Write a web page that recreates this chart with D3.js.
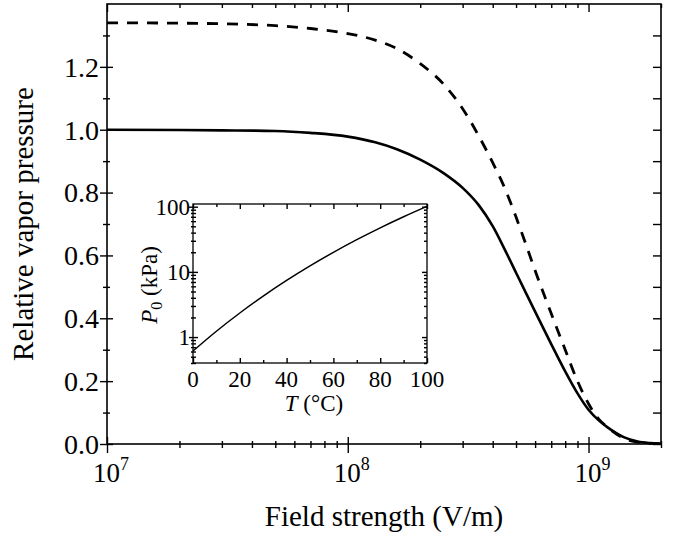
<!DOCTYPE html>
<html>
<head>
<meta charset="utf-8">
<script src="https://cdn.jsdelivr.net/npm/d3@7"></script>
<style>
  body { margin: 0; background: #fff; }
  svg text { font-family: "Liberation Serif", "Times New Roman", serif; fill: #000; }
  .tk line { stroke: #000; stroke-width: 1.4; }
  .tk .domain { display: none; }
</style>
</head>
<body>
<svg width="677" height="541"></svg>
<script>
// main plot data
var fieldStrength = [1e7, 2e7, 3e7, 5e7, 7e7, 1e8, 1.3e8, 1.6e8, 2e8, 2.5e8, 3e8, 3.5e8, 4e8, 4.5e8, 5e8,
                     5.5e8, 6e8, 7e8, 8e8, 9e8, 1e9, 1.1e9, 1.2e9, 1.4e9, 1.6e9, 1.8e9, 2e9];
var vaporSolid  = [1.000, 0.999, 0.998, 0.996, 0.990, 0.978, 0.960, 0.938, 0.905, 0.862, 0.815, 0.760, 0.693, 0.617, 0.545,
                   0.480, 0.421, 0.318, 0.231, 0.161, 0.109, 0.076, 0.053, 0.022, 0.008, 0.003, 0.001];
var vaporDashed = [1.340, 1.339, 1.337, 1.331, 1.322, 1.306, 1.285, 1.258, 1.210, 1.145, 1.067, 0.980, 0.895, 0.812, 0.722,
                   0.634, 0.552, 0.415, 0.300, 0.200, 0.128, 0.080, 0.053, 0.018, 0.006, 0.002, 0.001];

var yTicks = [0, 0.2, 0.4, 0.6, 0.8, 1.0, 1.2];
var yMinor = [0.1, 0.3, 0.5, 0.7, 0.9, 1.1, 1.3];
var xMajor = [1e7, 1e8, 1e9];
var xLabels = ["7", "8", "9"];

// inset: saturation pressure of water
var insetTemp = [0, 10, 20, 30, 40, 50, 60, 70, 80, 90, 100];
var insetPressure = [0.611, 1.228, 2.339, 4.246, 7.384, 12.35, 19.95, 31.2, 47.4, 70.1, 101.3];
var insetXTicks = [0, 20, 40, 60, 80, 100];
var insetXMinor = [10, 30, 50, 70, 90];
var insetYTicks = [1, 10, 100];

var svg = d3.select("svg");
svg.append("rect").attr("width", 677).attr("height", 541).attr("fill", "#fff");

var x = d3.scaleLog().domain([1e7, 2e9]).range([107, 661]);
var y = d3.scaleLinear().domain([0, 1.4]).range([444, 4]);

var xMinor = x.ticks().filter(function(d) { return xMajor.indexOf(d) < 0; });

// curves
var line = d3.line()
    .x(function(d) { return x(d[0]); })
    .y(function(d) { return y(d[1]); })
    .curve(d3.curveMonotoneX);

svg.append("path")
    .datum(fieldStrength.map(function(d, i) { return [d, vaporSolid[i]]; }))
    .attr("d", line)
    .attr("fill", "none")
    .attr("stroke", "#000")
    .attr("stroke-width", 2.6);

svg.append("path")
    .datum(fieldStrength.map(function(d, i) { return [d, vaporDashed[i]]; }))
    .attr("d", line)
    .attr("fill", "none")
    .attr("stroke", "#000")
    .attr("stroke-width", 2.8)
    .attr("stroke-dasharray", "11,9");

// frame
svg.append("rect")
    .attr("x", 107).attr("y", 4).attr("width", 554).attr("height", 440)
    .attr("fill", "none").attr("stroke", "#000").attr("stroke-width", 1.6);

// bottom axis: crossing ticks
svg.append("g").attr("class", "tk").attr("transform", "translate(0,444)")
    .call(d3.axisBottom(x).tickValues(xMajor).tickSize(9).tickFormat(""));
svg.append("g").attr("class", "tk").attr("transform", "translate(0,444)")
    .call(d3.axisTop(x).tickValues(xMajor).tickSize(7).tickFormat(""));
svg.append("g").attr("class", "tk").attr("transform", "translate(0,444)")
    .call(d3.axisBottom(x).tickValues(xMinor).tickSize(4).tickFormat(""));
svg.append("g").attr("class", "tk").attr("transform", "translate(0,444)")
    .call(d3.axisTop(x).tickValues(xMinor).tickSize(3).tickFormat(""));
// top axis: inward ticks
svg.append("g").attr("class", "tk").attr("transform", "translate(0,4)")
    .call(d3.axisBottom(x).tickValues(xMajor).tickSize(8).tickFormat(""));
svg.append("g").attr("class", "tk").attr("transform", "translate(0,4)")
    .call(d3.axisBottom(x).tickValues(xMinor).tickSize(4).tickFormat(""));

// left axis: crossing ticks
svg.append("g").attr("class", "tk").attr("transform", "translate(107,0)")
    .call(d3.axisLeft(y).tickValues(yTicks).tickSize(7).tickFormat(""));
svg.append("g").attr("class", "tk").attr("transform", "translate(107,0)")
    .call(d3.axisRight(y).tickValues(yTicks).tickSize(6).tickFormat(""));
svg.append("g").attr("class", "tk").attr("transform", "translate(107,0)")
    .call(d3.axisLeft(y).tickValues(yMinor).tickSize(4).tickFormat(""));
svg.append("g").attr("class", "tk").attr("transform", "translate(107,0)")
    .call(d3.axisRight(y).tickValues(yMinor).tickSize(3).tickFormat(""));
// right axis: inward ticks
svg.append("g").attr("class", "tk").attr("transform", "translate(661,0)")
    .call(d3.axisLeft(y).tickValues(yTicks.concat(yMinor)).tickSize(8).tickFormat(""));

// tick labels
svg.selectAll(".ylab").data(yTicks).enter().append("text")
    .attr("x", 99)
    .attr("y", function(d) { return y(d); })
    .attr("dy", "0.35em")
    .attr("text-anchor", "end")
    .style("font-size", "28px")
    .text(function(d) { return d.toFixed(1); });

var xl = svg.selectAll(".xlab").data(xMajor).enter().append("text")
    .attr("x", function(d) { return x(d) - 14; })
    .attr("y", 482)
    .style("font-size", "27px");
xl.append("tspan").text("10");
xl.append("tspan").attr("dy", -12).style("font-size", "18px")
    .text(function(d, i) { return xLabels[i]; });

// axis titles
svg.append("text")
    .attr("x", 384).attr("y", 526)
    .attr("text-anchor", "middle")
    .style("font-size", "29px")
    .text("Field strength (V/m)");

svg.append("text")
    .attr("transform", "translate(33,224) rotate(-90)")
    .attr("text-anchor", "middle")
    .style("font-size", "29px")
    .text("Relative vapor pressure");

// ---- inset ----
var ix = d3.scaleLinear().domain([0, 100]).range([193, 427]);
var iy = d3.scaleLog().domain([0.4, 110]).range([363, 204]);
var iyMinor = iy.ticks().filter(function(d) { return insetYTicks.indexOf(d) < 0; });

svg.append("rect")
    .attr("x", 193).attr("y", 204).attr("width", 234).attr("height", 159)
    .attr("fill", "#fff").attr("stroke", "#000").attr("stroke-width", 1.3);

svg.append("path")
    .datum(insetTemp.map(function(d, i) { return [d, insetPressure[i]]; }))
    .attr("d", d3.line()
        .x(function(d) { return ix(d[0]); })
        .y(function(d) { return iy(d[1]); })
        .curve(d3.curveMonotoneX))
    .attr("fill", "none")
    .attr("stroke", "#000")
    .attr("stroke-width", 1.5);

svg.append("g").attr("class", "tk").attr("transform", "translate(0,363)")
    .call(d3.axisTop(ix).tickValues(insetXTicks).tickSize(5).tickFormat(""));
svg.append("g").attr("class", "tk").attr("transform", "translate(0,363)")
    .call(d3.axisTop(ix).tickValues(insetXMinor).tickSize(3).tickFormat(""));
svg.append("g").attr("class", "tk").attr("transform", "translate(0,204)")
    .call(d3.axisBottom(ix).tickValues(insetXTicks).tickSize(5).tickFormat(""));
svg.append("g").attr("class", "tk").attr("transform", "translate(0,204)")
    .call(d3.axisBottom(ix).tickValues(insetXMinor).tickSize(3).tickFormat(""));

svg.append("g").attr("class", "tk").attr("transform", "translate(193,0)")
    .call(d3.axisLeft(iy).tickValues(insetYTicks).tickSize(4).tickFormat(""));
svg.append("g").attr("class", "tk").attr("transform", "translate(193,0)")
    .call(d3.axisRight(iy).tickValues(insetYTicks).tickSize(5).tickFormat(""));
svg.append("g").attr("class", "tk").attr("transform", "translate(193,0)")
    .call(d3.axisLeft(iy).tickValues(iyMinor).tickSize(2).tickFormat(""));
svg.append("g").attr("class", "tk").attr("transform", "translate(193,0)")
    .call(d3.axisRight(iy).tickValues(iyMinor).tickSize(3).tickFormat(""));
svg.append("g").attr("class", "tk").attr("transform", "translate(427,0)")
    .call(d3.axisLeft(iy).tickValues(insetYTicks).tickSize(5).tickFormat(""));
svg.append("g").attr("class", "tk").attr("transform", "translate(427,0)")
    .call(d3.axisLeft(iy).tickValues(iyMinor).tickSize(3).tickFormat(""));

svg.selectAll(".iylab").data(insetYTicks).enter().append("text")
    .attr("x", 190)
    .attr("y", function(d) { return iy(d); })
    .attr("dy", "0.35em")
    .attr("text-anchor", "end")
    .style("font-size", "23px")
    .text(function(d) { return d; });

svg.selectAll(".ixlab").data(insetXTicks).enter().append("text")
    .attr("x", function(d) { return ix(d); })
    .attr("y", 387)
    .attr("text-anchor", "middle")
    .style("font-size", "23px")
    .text(function(d) { return d; });

var tl = svg.append("text")
    .attr("x", 314).attr("y", 411)
    .attr("text-anchor", "middle")
    .style("font-size", "23px");
tl.append("tspan").style("font-style", "italic").text("T");
tl.append("tspan").text(" (\u00b0C)");

var pl = svg.append("text")
    .attr("transform", "translate(157,285) rotate(-90)")
    .attr("text-anchor", "middle")
    .style("font-size", "23px");
pl.append("tspan").style("font-style", "italic").text("P");
pl.append("tspan").attr("dy", 5).style("font-size", "16px").text("0");
pl.append("tspan").attr("dy", -5).text(" (kPa)");
</script>
</body>
</html>
